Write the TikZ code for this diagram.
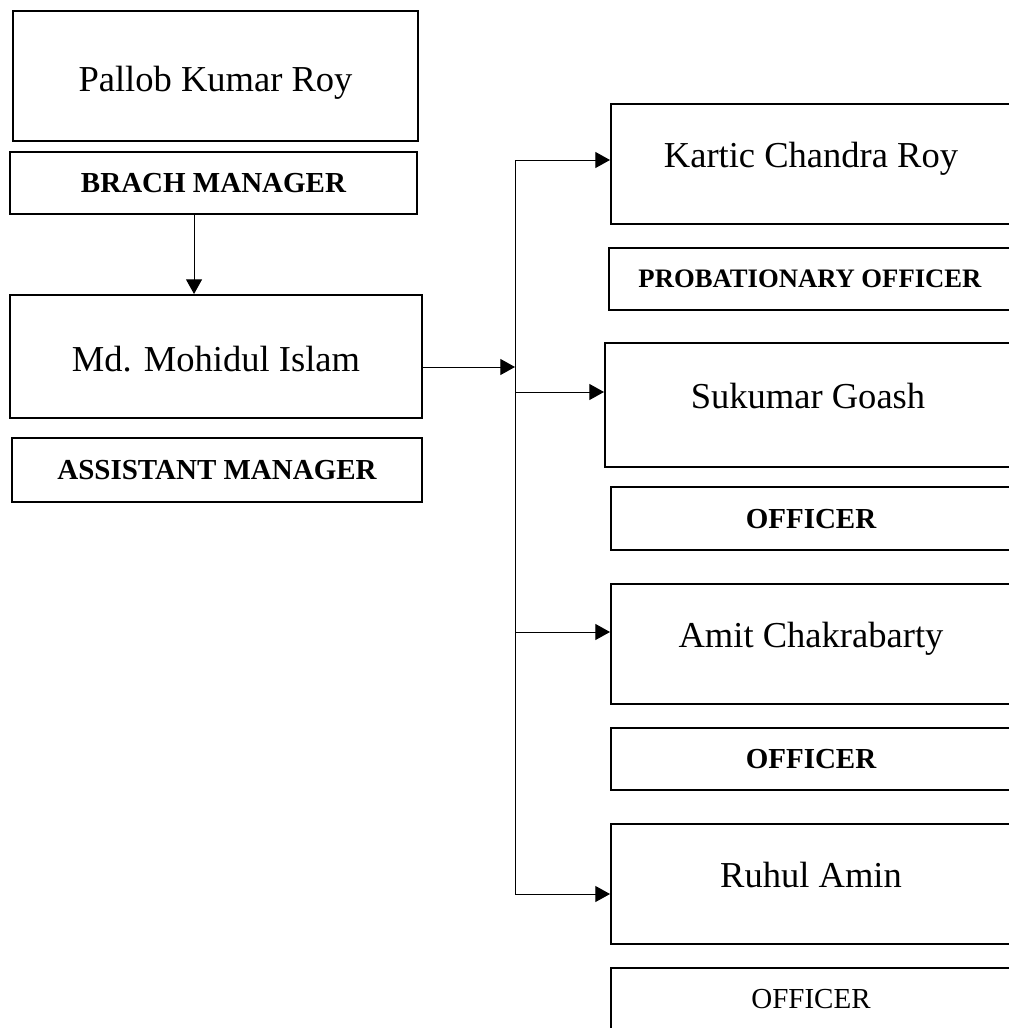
\documentclass[tikz,border=0pt]{standalone}
\usepackage{fontspec}
\setmainfont{Liberation Serif}
\usepackage{tikz}
\usetikzlibrary{arrows.meta}
\tikzstyle{box}   =[draw,rectangle,line width=1.5pt,inner sep=0pt]
\tikzstyle{person}=[box,font=\fontsize{27.4}{32}\selectfont,text height=23pt,text depth=0pt]
\tikzstyle{personr}=[person,text height=18.5pt,text depth=13pt]
\tikzstyle{role}  =[box,font=\fontsize{21.75}{26}\selectfont\bfseries,text depth=0pt]
\tikzstyle{orgline}=[line width=.75pt]
\tikzstyle{orgarrow}=[orgline,-{Triangle[length=11pt,width=12pt]}]

\begin{document}
\begin{tikzpicture}[x=.75pt,y=-.75pt]
	\useasboundingbox (0,0) rectangle (1009,1028);
	\clip (0,0) rectangle (1009,1028);
	% left column
	\node[person,minimum width=303.75pt,minimum height=97.5pt] (P1) at (215.5,76) {Pallob Kumar Roy};
	\node[role,minimum width=305.25pt,minimum height=46.5pt] (R1) at (213.5,183) {BRACH MANAGER};
	\node[person,minimum width=309pt,minimum height=92.25pt] (P2) at (216,356.5) {Md. Mohidul Islam};
	\node[role,minimum width=307.5pt,minimum height=48pt] (R2) at (217,470) {ASSISTANT MANAGER};
	% right column
	\node[personr,minimum width=300pt,minimum height=90pt] (P3) at (811,164) {Kartic Chandra Roy};
	\node[role,font=\fontsize{20}{24}\selectfont\bfseries,minimum width=301.5pt,minimum height=46.5pt] (R3) at (810,279) {PROBATIONARY OFFICER};
	\node[personr,minimum width=304.5pt,minimum height=93pt] (P4) at (808,405) {Sukumar Goash};
	\node[role,minimum width=300pt,minimum height=47.25pt] (R4) at (811,518.5) {OFFICER};
	\node[personr,minimum width=300pt,minimum height=90pt] (P5) at (811,644) {Amit Chakrabarty};
	\node[role,minimum width=300pt,minimum height=46.5pt] (R5) at (811,759) {OFFICER};
	\node[personr,minimum width=300pt,minimum height=90pt] (P6) at (811,884) {Ruhul Amin};
	\node[role,font=\fontsize{21.75}{26}\selectfont,minimum width=300pt,minimum height=46.5pt] (R6) at (811,999) {OFFICER};
	% connectors
	\draw[orgarrow] ([xshift=-14.6pt]R1.south) -- ([xshift=-14.6pt]R1.south |- P2.north);
	\coordinate (M)  at (515,367);
	\coordinate (S3) at (515,160);
	\coordinate (S4) at (515,392);
	\coordinate (S5) at (515,632);
	\coordinate (S6) at (515,894);
	\draw[orgarrow] (P2.east |- M) -- (M);
	\draw[orgline] (S3) -- (S6);
	\draw[orgarrow] (S3) -- (S3 -| P3.west);
	\draw[orgarrow] (S4) -- (S4 -| P4.west);
	\draw[orgarrow] (S5) -- (S5 -| P5.west);
	\draw[orgarrow] (S6) -- (S6 -| P6.west);
\end{tikzpicture}
\end{document}
